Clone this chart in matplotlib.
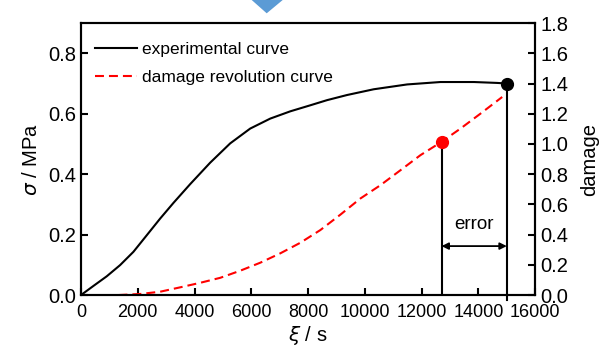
import matplotlib
matplotlib.use('Agg')
import matplotlib.pyplot as plt
from matplotlib.patches import Polygon

plt.rcParams['font.family'] = ['Liberation Sans', 'DejaVu Sans']

# experimental stress curve (left axis, MPa)
exp_t = [0, 435, 906, 1376, 1846, 2317, 2787, 3257, 3845, 4550, 5256, 5961,
         6667, 7372, 8078, 8667, 9372, 10310, 11488, 12663, 13838, 14663, 15000]
exp_s = [0.0, 0.030, 0.062, 0.099, 0.143, 0.198, 0.253, 0.305, 0.367, 0.438,
         0.502, 0.551, 0.584, 0.608, 0.628, 0.645, 0.662, 0.681, 0.697, 0.705,
         0.705, 0.702, 0.700]

# damage evolution curve (right axis)
dmg_t = [1320, 2081, 2787, 3492, 4198, 4903, 5608, 6314, 7019, 7725, 8430,
         9136, 9841, 10547, 11252, 11958, 12700, 13369, 14074, 14838]
dmg_v = [0.0, 0.007, 0.022, 0.051, 0.081, 0.114, 0.161, 0.214, 0.276, 0.346,
         0.430, 0.532, 0.639, 0.727, 0.826, 0.926, 1.014, 1.102, 1.201, 1.311]

t_pred = 12700   # predicted failure (red point)
t_exp = 15000    # experimental failure (black point)
d_pred = 1.014
s_exp = 0.700

fig = plt.figure(figsize=(6, 3.5), dpi=100)
ax = fig.add_axes([0.135, 0.157, 0.757, 0.777])
ax2 = ax.twinx()

ax.plot(exp_t, exp_s, color='black', lw=1.5, label='experimental curve')
ax.plot([], [], color='red', lw=1.5, dashes=(4.3, 2.4), label='damage revolution curve')
ax2.plot(dmg_t, dmg_v, color='red', lw=1.5, dashes=(4.3, 2.4))

# markers and drop lines
ax.plot([t_exp, t_exp], [-0.017, s_exp], color='black', lw=1.5, clip_on=False)
ax.plot(t_exp, s_exp, 'o', color='black', ms=8.5, clip_on=False, zorder=5)
ax2.plot([t_pred, t_pred], [0, d_pred], color='black', lw=1.5)
ax2.plot(t_pred, d_pred, 'o', color='red', ms=8.5, zorder=5)

# error arrow
ax.annotate('', xy=(t_pred, 0.162), xytext=(t_exp, 0.162),
            arrowprops=dict(arrowstyle='<|-|>', color='black', lw=1.3,
                            mutation_scale=10, shrinkA=0, shrinkB=0))
ax.text((t_pred + t_exp) / 2, 0.205, 'error', ha='center', va='bottom', fontsize=13.5)

ax.set_xlim(0, 16000)
ax.set_ylim(0, 0.9)
ax2.set_ylim(0, 1.8)
ax.set_xticks(range(0, 16001, 2000))
ax.set_yticks([0.0, 0.2, 0.4, 0.6, 0.8])
ax2.set_yticks([0.0, 0.2, 0.4, 0.6, 0.8, 1.0, 1.2, 1.4, 1.6, 1.8])
ax.yaxis.set_major_formatter(matplotlib.ticker.FormatStrFormatter('%.1f'))
ax2.yaxis.set_major_formatter(matplotlib.ticker.FormatStrFormatter('%.1f'))

for a in (ax, ax2):
    for s in a.spines.values():
        s.set_linewidth(1.5)
    a.tick_params(direction='in', length=5, width=1.5, labelsize=14.5)
ax.tick_params(axis='x', labelsize=13, pad=6.5)

ax.set_xlabel(r'$\xi$ / s', fontsize=14.5, labelpad=2)
ax.set_ylabel(r'$\sigma$ / MPa', fontsize=14.5, labelpad=5)
ax2.set_ylabel('damage', fontsize=14.5, labelpad=9)

ax.legend(loc='upper left', bbox_to_anchor=(0.004, 0.974), frameon=False,
          fontsize=12.5, handlelength=2.4, handletextpad=0.3,
          borderaxespad=0.3, labelspacing=0.74)

# piece of blue flow-chart arrow peeking in at the top
fig.patches.append(Polygon([[251.7 / 600, 1.0], [282.7 / 600, 1.0], [266.7 / 600, 1 - 13.3 / 350]],
                           closed=True, transform=fig.transFigure,
                           facecolor='#5b9bd5', edgecolor='none'))

fig.savefig('out.png', dpi=100)
